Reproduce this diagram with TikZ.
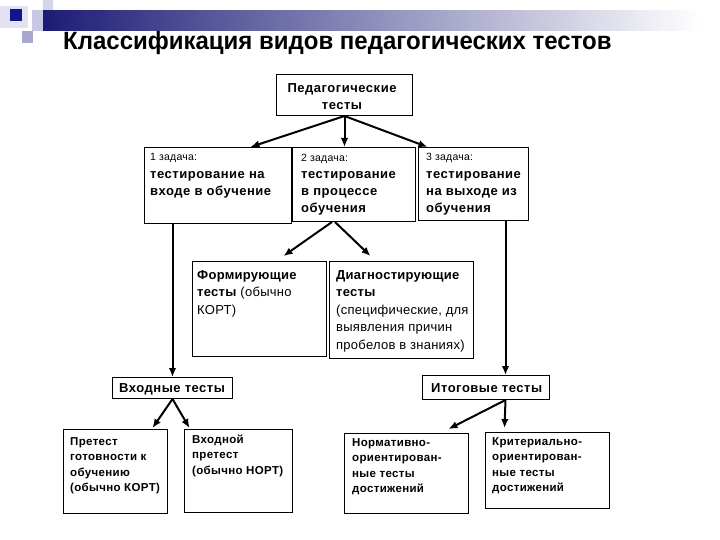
\documentclass[tikz,border=0pt]{standalone}
\usepackage{fontspec}
\setmainfont{Liberation Sans}
\newfontfamily\boxfont{Liberation Sans}[LetterSpace=4]
\newfontfamily\normfont{Liberation Sans}[LetterSpace=2]
\newfontfamily\lowfont{Liberation Sans}[LetterSpace=3]
\newfontfamily\smallfont{Liberation Sans}[LetterSpace=2]
\newfontfamily\titlefont{Liberation Sans}[FakeStretch=0.96]
\usetikzlibrary{arrows.meta}
\definecolor{navy}{RGB}{28,28,118}
\definecolor{darkblue}{RGB}{20,20,140}
\definecolor{palelav}{RGB}{226,226,242}
\definecolor{lav}{RGB}{200,200,228}
\definecolor{lavlight}{RGB}{212,212,234}
\definecolor{lavgray}{RGB}{168,168,204}
\tikzset{
  box/.style={draw=black, line width=1pt, inner sep=0pt, anchor=north west},
  arr/.style={line width=2pt, -{Latex[length=9pt,width=7.5pt]}},
  bt/.style={inner sep=0pt, anchor=north west, align=left,
    font=\boxfont\fontsize{13}{17}\selectfont\bfseries},
  mt/.style={inner sep=0pt, anchor=north west, align=left,
    font=\normfont\fontsize{13}{17.5}\selectfont},
  st/.style={inner sep=0pt, anchor=base west, font=\smallfont\fontsize{10.5}{12}\selectfont},
  lt/.style={inner sep=0pt, anchor=north west, align=left,
    font=\lowfont\fontsize{11.5}{15.3}\selectfont\bfseries},
}
\newcommand\mybox[5]{\node[box, minimum width={#4-#2}, minimum height={#5-#3}] (#1) at (#2,#3) {};}
\begin{document}
\begin{tikzpicture}[x=1pt, y=-1pt]
\useasboundingbox (0,0) rectangle (720,540);
% header decoration
\fill[palelav] (0,6) rectangle (28,28);
\fill[darkblue] (10,9) rectangle (22,21);
\fill[lavlight] (43,0) rectangle (53,11);
\fill[lav] (32,10) rectangle (43,31);
\fill[lavgray] (22,31) rectangle (33,43);
\shade[left color=navy, right color=white] (43,11) rectangle (700,31);
\node[inner sep=0pt, anchor=base west] (title) at (63,50)
  {\titlefont\bfseries\fontsize{25}{30}\selectfont Классификация видов педагогических тестов};
% boxes
\mybox{top}{276}{74}{412}{115}
\mybox{b1}{144}{147}{291}{223}
\mybox{b2}{292}{147}{415}{221}
\mybox{b3}{418}{147}{528}{220}
\mybox{form}{192}{261}{326}{356}
\mybox{diag}{329}{261}{473}{358}
\mybox{vh}{112}{377}{232}{398}
\mybox{it}{422}{375}{549}{399}
\mybox{pre}{63}{429}{167}{513}
\mybox{vpre}{184}{429}{292}{512}
\mybox{norm}{344}{433}{468}{513}
\mybox{crit}{485}{432}{609}{508}
% texts
\node[bt, anchor=north, align=center] (toptx) at (342,80.1) {\strut Педагогические\\тесты};
\node[st] (b1s) at (150,161) {1 задача:};
\node[bt] (b1t) at (150,166.1) {\strut тестирование на\\входе в обучение};
\node[st] (b2s) at (301,162) {2 задача:};
\node[bt] (b2t) at (301,166.1) {\strut тестирование\\в процессе\\обучения};
\node[st] (b3s) at (426,161) {3 задача:};
\node[bt] (b3t) at (426,166.1) {\strut тестирование\\на выходе из\\обучения};
\node[mt] (formt) at (197,266.75) {\strut\textbf{Формирующие}\\\textbf{тесты} (обычно\\КОРТ)};
\node[mt] (diagt) at (336,266.75) {\strut\textbf{Диагностирующие}\\\textbf{тесты}\\(специфические, для\\выявления причин\\пробелов в знаниях)};
\node[bt, anchor=base west] (vht) at (119,392) {Входные тесты};
\node[bt, anchor=base west] (itt) at (431,392) {Итоговые тесты};
\node[lt] (pret) at (70,434.5) {\strut Претест\\готовности к\\обучению\\(обычно КОРТ)};
\node[lt] (vpret) at (192,432.5) {\strut Входной\\претест\\(обычно НОРТ)};
\node[lt] (normt) at (352,435.5) {\strut Нормативно-\\ориентирован-\\ные тесты\\достижений};
\node[lt] (critt) at (492,434.5) {\strut Критериально-\\ориентирован-\\ные тесты\\достижений};
% connectors
\draw[arr] (top.south) -- ([xshift=32.5pt]b1.north);
\draw[arr] (top.south) -- (top.south |- b2.north);
\draw[arr] (top.south) -- ([xshift=-46pt]b3.north);
\draw[arr] ([xshift=-22pt]b2.south) -- ([xshift=24pt,yshift=5pt]form.north);
\draw[arr] ([xshift=-19pt]b2.south) -- ([xshift=-31pt,yshift=5pt]diag.north);
\draw[arr] (vh.north |- b1.south) -- (vh.north);
\coordinate (itin) at ([xshift=19.5pt]it.north);
\coordinate (itout) at ([xshift=19.5pt]it.south);
\draw[arr] (itin |- b3.south) -- (itin);
\draw[arr] (vh.south) -- ([xshift=37pt,yshift=1pt]pre.north);
\draw[arr] (vh.south) -- ([xshift=-49pt,yshift=1pt]vpre.north);
\draw[arr] (itout) -- ([xshift=42pt,yshift=4pt]norm.north);
\draw[arr] (itout) -- ([xshift=-43pt,yshift=4pt]crit.north);
\end{tikzpicture}
\end{document}
